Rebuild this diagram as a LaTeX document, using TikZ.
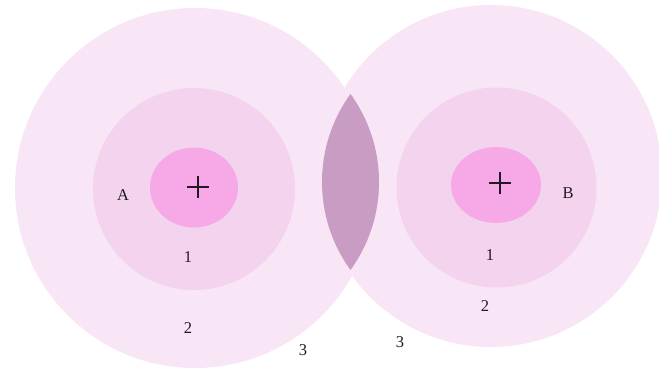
\documentclass[tikz,border=0pt]{standalone}
\usepackage{fontspec}
\setmainfont{Liberation Serif}
\definecolor{outerc}{RGB}{248,230,246}
\definecolor{midc}{RGB}{243,211,237}
\definecolor{innerc}{RGB}{246,168,231}
\definecolor{lensc}{RGB}{201,156,196}
\definecolor{inkc}{RGB}{35,25,35}
\tikzset{
  lbl/.style={font=\fontsize{16.5}{18}\selectfont, text=inkc, inner sep=0pt},
  plusmark/.style={draw=inkc, line width=1.1pt}
}
\begin{document}
\begin{tikzpicture}[x=1pt,y=-1pt]
\useasboundingbox (0,0) rectangle (659,371);
\fill[white] (0,0) rectangle (659,371);
% outer circles
\fill[outerc] (195,188) circle (180);
\fill[outerc] (491,176) circle (171);
% lens (overlap)
\begin{scope}
  \clip (229,182) circle (150);
  \fill[lensc] (472,182) circle (150);
\end{scope}
% middle circles
\fill[midc] (194,189) circle (101);
\fill[midc] (496.5,187.5) circle (100);
% inner ellipses
\fill[innerc] (194,187.5) ellipse (44 and 40);
\fill[innerc] (496,185) ellipse (45 and 38);
% plus marks
\coordinate (pa) at (198,187);
\coordinate (pb) at (500,183);
\draw[plusmark] ([xshift=-11pt]pa) -- ([xshift=11pt]pa) ([yshift=-11pt]pa) -- ([yshift=11pt]pa);
\draw[plusmark] ([xshift=-11pt]pb) -- ([xshift=11pt]pb) ([yshift=-11pt]pb) -- ([yshift=11pt]pb);
% labels
\node[lbl] (A) at (123,195) {A};
\node[lbl] (B) at (568,193) {B};
\node[lbl] (a1) at (188,257) {1};
\node[lbl] (a2) at (188,328) {2};
\node[lbl] (a3) at (303,350) {3};
\node[lbl] (b1) at (490,255) {1};
\node[lbl] (b2) at (485,306) {2};
\node[lbl] (b3) at (400,342) {3};
\end{tikzpicture}
\end{document}
